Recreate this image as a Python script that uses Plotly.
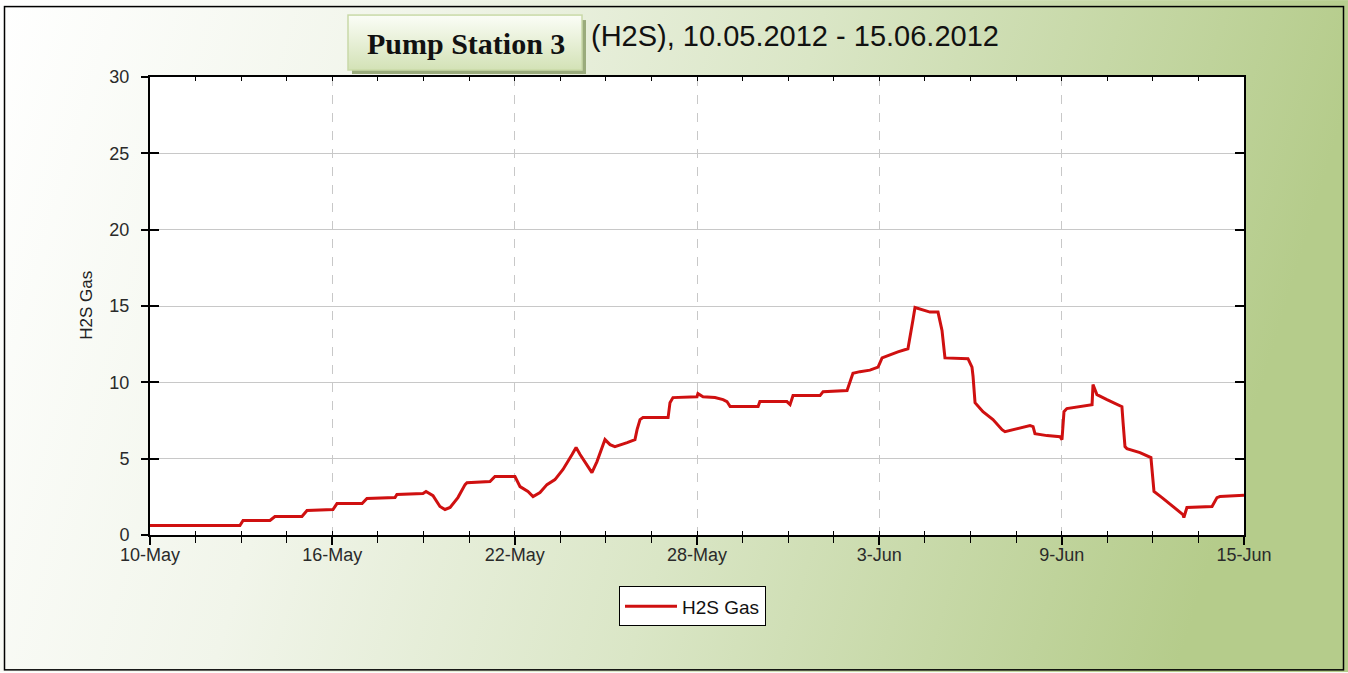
import base64
import plotly.graph_objects as go

# ---------------- data ----------------
times = [
    "2012-05-10 00:00", "2012-05-12 23:00", "2012-05-13 01:30", "2012-05-13 22:45",
    "2012-05-14 02:40", "2012-05-15 00:00", "2012-05-15 04:00", "2012-05-16 00:30",
    "2012-05-16 03:40", "2012-05-16 23:30", "2012-05-17 03:20", "2012-05-18 01:30",
    "2012-05-18 03:00", "2012-05-18 23:35", "2012-05-19 02:00", "2012-05-19 07:30",
    "2012-05-19 13:00", "2012-05-19 17:00", "2012-05-19 21:00", "2012-05-20 03:10",
    "2012-05-20 08:50", "2012-05-20 10:20", "2012-05-21 04:30", "2012-05-21 08:25",
    "2012-05-22 00:15", "2012-05-22 04:15", "2012-05-22 10:30", "2012-05-22 14:30",
    "2012-05-22 20:00", "2012-05-23 01:30", "2012-05-23 07:50", "2012-05-23 14:10",
    "2012-05-23 21:20", "2012-05-24 00:30", "2012-05-24 03:40", "2012-05-24 09:10",
    "2012-05-24 13:00", "2012-05-24 17:00", "2012-05-24 21:00", "2012-05-24 23:20",
    "2012-05-25 03:20", "2012-05-25 07:10", "2012-05-25 16:50", "2012-05-25 23:00",
    "2012-05-26 00:40", "2012-05-26 03:00", "2012-05-26 05:20", "2012-05-27 01:10",
    "2012-05-27 02:40", "2012-05-27 05:00", "2012-05-28 00:00", "2012-05-28 00:45",
    "2012-05-28 04:45", "2012-05-28 14:10", "2012-05-28 20:35", "2012-05-28 23:40",
    "2012-05-29 02:10", "2012-05-30 00:15", "2012-05-30 01:40", "2012-05-30 23:00",
    "2012-05-31 01:30", "2012-05-31 03:50", "2012-06-01 01:10", "2012-06-01 03:35",
    "2012-06-01 22:30", "2012-06-02 00:45", "2012-06-02 03:10", "2012-06-02 08:40",
    "2012-06-02 16:35", "2012-06-02 23:00", "2012-06-03 02:10", "2012-06-03 08:25",
    "2012-06-03 14:40", "2012-06-03 22:35", "2012-06-04 00:15", "2012-06-04 02:35",
    "2012-06-04 04:10", "2012-06-04 08:10", "2012-06-04 16:00", "2012-06-04 22:20",
    "2012-06-05 01:30", "2012-06-05 03:50", "2012-06-05 22:00", "2012-06-06 01:10",
    "2012-06-06 02:00", "2012-06-06 03:35", "2012-06-06 09:50", "2012-06-06 17:45",
    "2012-06-07 00:55", "2012-06-07 03:15", "2012-06-07 23:00", "2012-06-08 01:25",
    "2012-06-08 02:55", "2012-06-08 12:25", "2012-06-08 22:40", "2012-06-09 00:15",
    "2012-06-09 01:50", "2012-06-09 04:05", "2012-06-09 14:25", "2012-06-10 00:00",
    "2012-06-10 00:45", "2012-06-10 02:20", "2012-06-10 03:50", "2012-06-10 11:45",
    "2012-06-10 23:35", "2012-06-11 00:30", "2012-06-11 02:00", "2012-06-11 03:30",
    "2012-06-11 13:50", "2012-06-11 22:30", "2012-06-12 00:05", "2012-06-12 00:55",
    "2012-06-12 07:15", "2012-06-12 15:50", "2012-06-12 23:45", "2012-06-13 00:30",
    "2012-06-13 02:55", "2012-06-13 22:45", "2012-06-14 02:40", "2012-06-14 05:00",
    "2012-06-14 23:15", "2012-06-15 00:00",
]
h2s_values = [
    0.62, 0.62, 0.95, 0.95, 1.21, 1.21, 1.60, 1.67,
    2.06, 2.06, 2.39, 2.45, 2.65, 2.72, 2.85, 2.58,
    1.87, 1.67, 1.80, 2.45, 3.30, 3.43, 3.50, 3.83,
    3.83, 3.17, 2.85, 2.52, 2.78, 3.30, 3.63, 4.29,
    5.27, 5.73, 5.27, 4.61, 4.09, 4.81, 5.79, 6.25,
    5.92, 5.79, 6.05, 6.25, 6.90, 7.56, 7.69, 7.69,
    8.67, 9.00, 9.06, 9.26, 9.06, 9.00, 8.87, 8.74,
    8.41, 8.41, 8.74, 8.74, 8.54, 9.13, 9.13, 9.39,
    9.46, 9.98, 10.6, 10.7, 10.8, 11.0, 11.6, 11.8,
    12.0, 12.2, 12.9, 14.1, 14.9, 14.8, 14.6, 14.6,
    13.4, 11.6, 11.55, 11.0, 10.4, 8.67, 8.08, 7.56,
    6.90, 6.77, 7.17, 7.10, 6.64, 6.51, 6.44, 6.25,
    8.08, 8.28, 8.41, 8.54, 9.85, 9.52, 9.20, 8.87,
    8.41, 7.36, 5.79, 5.66, 5.40, 5.07, 3.83, 2.85,
    2.45, 1.87, 1.34, 1.15, 1.80, 1.87, 2.45, 2.52,
    2.58, 2.60,
]
x_tick_dates = ["2012-05-10", "2012-05-16", "2012-05-22", "2012-05-28",
                "2012-06-03", "2012-06-09", "2012-06-15"]
x_tick_labels = ["10-May", "16-May", "22-May", "28-May", "3-Jun", "9-Jun", "15-Jun"]
y_tick_vals = [0, 5, 10, 15, 20, 25, 30]
series_name = "H2S Gas"
title_box_text = "Pump Station 3"
title_text = "(H2S), 10.05.2012 - 15.06.2012"

# ---------------- layout geometry ----------------
W, H = 1348, 673
L, R, T, B = 150, 1244, 77, 535.5
PW, PH = R - L, B - T


def px(x):
    return (x - L) / PW


def py(y):
    return (B - y) / PH


# background gradient + frame + title box (as one svg image)
svg = f'''<svg xmlns="http://www.w3.org/2000/svg" width="{W}" height="{H}" viewBox="0 0 {W} {H}" preserveAspectRatio="none">
<defs>
<linearGradient id="bg" x1="0" y1="0" x2="1" y2="0.15">
<stop offset="0" stop-color="#ffffff"/>
<stop offset="0.3" stop-color="#f1f5ea"/>
<stop offset="0.6" stop-color="#dae6c6"/>
<stop offset="1" stop-color="#b5cc8b"/>
</linearGradient>
<linearGradient id="bx" x1="0" y1="0" x2="0" y2="1">
<stop offset="0" stop-color="#fbfdf7"/>
<stop offset="1" stop-color="#d3e2b6"/>
</linearGradient>
</defs>
<rect x="0" y="0" width="{W}" height="{H}" fill="url(#bg)"/>
<rect x="4.5" y="6.5" width="{W-9}" height="{H-9}" fill="none" stroke="#000" stroke-width="1.5"/>
<rect x="352" y="20" width="234" height="54" fill="#9aab7c"/>
<rect x="348" y="15" width="234" height="55" fill="url(#bx)" stroke="#c9d9a8" stroke-width="1.5"/>
</svg>'''
svg_uri = "data:image/svg+xml;base64," + base64.b64encode(svg.encode()).decode()

fig = go.Figure()
fig.add_trace(go.Scatter(
    x=times, y=h2s_values, mode="lines", name=series_name,
    line=dict(color="#cf1010", width=3), xaxis="x", yaxis="y",
))
# dummy trace for overlay axes (inside ticks)
fig.add_trace(go.Scatter(
    x=[times[0]], y=[h2s_values[0]], mode="none", showlegend=False,
    hoverinfo="skip", xaxis="x2", yaxis="y2",
))

axis_font = dict(family="Arial, Liberation Sans, sans-serif", size=18, color="#2a2a2a")
x_range = ["2012-05-10", "2012-06-15"]
day_ms = 86400000

fig.update_layout(
    width=W, height=H,
    margin=dict(l=L, r=W - R, t=T, b=H - B, pad=0),
    paper_bgcolor="white", plot_bgcolor="white",
    showlegend=True,
    legend=dict(
        x=px(619), y=py(587), xanchor="left", yanchor="top",
        bgcolor="white", bordercolor="#000000", borderwidth=1,
        font=dict(family="Arial, Liberation Sans, sans-serif", size=19, color="#111"),
        itemwidth=52, tracegroupgap=0,
    ),
    xaxis=dict(
        type="date", range=x_range,
        tickmode="array", tickvals=x_tick_dates, ticktext=x_tick_labels,
        ticks="outside", ticklen=8, tickwidth=1.5, tickcolor="#000",
        showline=True, linecolor="#000", linewidth=1.5,
        showgrid=True, gridcolor="#c8c8c8", griddash="dash", gridwidth=1,
        zeroline=False, tickfont=axis_font,
        minor=dict(tickmode="linear", tick0="2012-05-10", dtick=1.5 * day_ms,
                   ticks="outside", ticklen=6, tickwidth=1.2, tickcolor="#000", showgrid=False),
        ticklabelstandoff=-5,
    ),
    yaxis=dict(
        range=[0, 30], tickmode="array", tickvals=y_tick_vals,
        ticks="outside", ticklen=7, tickwidth=1.5, tickcolor="#000",
        showline=True, linecolor="#000", linewidth=2,
        showgrid=True, gridcolor="#c8c8c8", gridwidth=1,
        zeroline=False, tickfont=axis_font, ticklabelstandoff=8,
    ),
    xaxis2=dict(
        type="date", range=x_range, overlaying="x", anchor="y2",
        tickmode="array", tickvals=x_tick_dates, ticktext=["" for _ in x_tick_labels],
        ticks="inside", ticklen=5, tickwidth=1.5, tickcolor="#000", mirror="ticks",
        showline=True, linecolor="#000", linewidth=1.5,
        showgrid=False, zeroline=False, showticklabels=False,
        minor=dict(tickmode="linear", tick0="2012-05-10", dtick=1.5 * day_ms,
                   ticks="inside", ticklen=4, tickwidth=1.2, tickcolor="#000", showgrid=False),
    ),
    yaxis2=dict(
        range=[0, 30], overlaying="y", anchor="x2",
        tickmode="array", tickvals=y_tick_vals,
        ticks="inside", ticklen=9, tickwidth=1.5, tickcolor="#000", mirror="ticks",
        showline=True, linecolor="#000", linewidth=2,
        showgrid=False, zeroline=False, showticklabels=False,
    ),
    images=[dict(
        source=svg_uri, xref="paper", yref="paper",
        x=px(0), y=py(0), sizex=W / PW, sizey=H / PH,
        xanchor="left", yanchor="top", sizing="stretch", layer="below",
    )],
    shapes=[dict(
        type="rect", xref="x domain", yref="y domain", x0=0, x1=1, y0=0, y1=1,
        fillcolor="white", line=dict(width=0), layer="below",
    )],
    annotations=[
        dict(text=f"<b>{title_box_text}</b>", xref="paper", yref="paper",
             x=px(466), y=py(43), xanchor="center", yanchor="middle", showarrow=False,
             font=dict(family="Georgia, Liberation Serif, DejaVu Serif, serif", size=30, color="#111111")),
        dict(text=title_text, xref="paper", yref="paper",
             x=px(589), y=py(36), xanchor="left", yanchor="middle", showarrow=False,
             font=dict(family="Arial, Liberation Sans, sans-serif", size=29, color="#111111")),
        dict(text=series_name, xref="paper", yref="paper",
             x=px(87), y=py(306), xanchor="center", yanchor="middle", showarrow=False,
             textangle=-90,
             font=dict(family="Arial, Liberation Sans, sans-serif", size=17, color="#222222")),
    ],
)

fig.write_html("out.html", config={"displayModeBar": False},
               post_script="document.body.style.margin='0';document.body.style.padding='0';")
